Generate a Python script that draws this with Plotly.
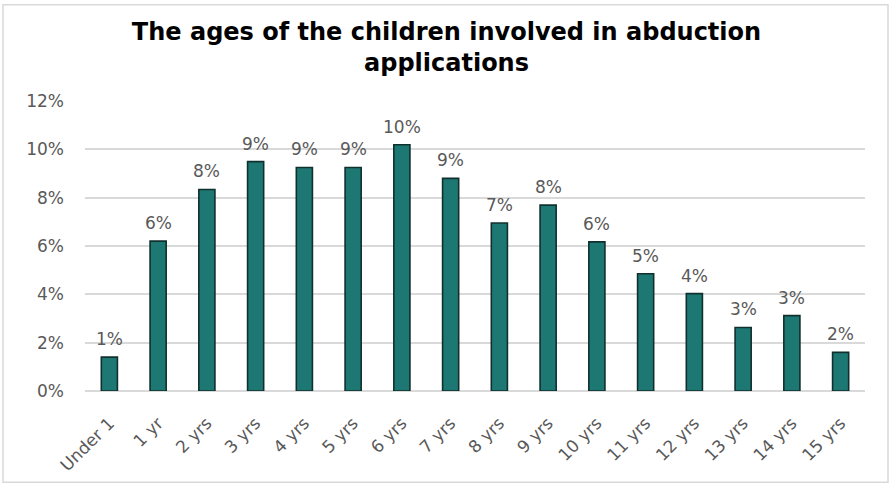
import plotly.graph_objects as go

# Share of abduction applications by the child's age
age_groups = ["Under 1", "1 yr", "2 yrs", "3 yrs", "4 yrs", "5 yrs", "6 yrs", "7 yrs",
              "8 yrs", "9 yrs", "10 yrs", "11 yrs", "12 yrs", "13 yrs", "14 yrs", "15 yrs"]
share = [0.014, 0.062, 0.0834, 0.0949, 0.0925, 0.0925, 0.1019, 0.088,
         0.0695, 0.0769, 0.0617, 0.0485, 0.0403, 0.0263, 0.0312, 0.016]
y_ticks = [0, 0.02, 0.04, 0.06, 0.08, 0.10, 0.12]
title_text = "<b>The ages of the children involved in abduction<br>applications</b>"

W, H = 893, 487
ML, MR, MT, MB = 85, 28, 101, 94
PW, PH = W - ML - MR, H - MT - MB


def px_x(p):
    return (p - ML) / PW


def px_y(p):
    return (H - MB - p) / PH


grey = "#595959"
font_family = "DejaVu Sans, Verdana, sans-serif"
label_font = dict(family=font_family, size=17, color=grey)

fig = go.Figure(
    go.Bar(
        x=age_groups,
        y=share,
        marker=dict(color="#1D7874", line=dict(color="#10302E", width=1.6)),
        width=0.33,
        hoverinfo="x+y",
    )
)

# value labels sitting above each bar
value_labels = [
    dict(
        x=cat,
        y=val,
        xref="x",
        yref="y",
        text=f"{val:.0%}",
        showarrow=False,
        xanchor="center",
        yanchor="bottom",
        yshift=6,
        font=label_font,
    )
    for cat, val in zip(age_groups, share)
]

fig.update_layout(
    width=W,
    height=H,
    margin=dict(l=ML, r=MR, t=MT, b=MB),
    paper_bgcolor="white",
    plot_bgcolor="white",
    showlegend=False,
    title=dict(
        text=title_text,
        x=0.5,
        xref="container",
        xanchor="center",
        y=1 - 40 / H,
        yanchor="middle",
        font=dict(family=font_family, size=24, color="black"),
    ),
    xaxis=dict(
        tickangle=-45,
        tickfont=label_font,
        showgrid=False,
        showline=False,
        ticks="",
        ticklabelstandoff=18,
    ),
    yaxis=dict(
        range=[0, 0.12],
        tickvals=y_ticks,
        tickformat=".0%",
        tickfont=label_font,
        showgrid=True,
        gridcolor="#D9D9D9",
        gridwidth=1.5,
        zeroline=True,
        zerolinecolor="#D9D9D9",
        zerolinewidth=1.5,
        showline=False,
        ticks="",
        ticklabelstandoff=20,
    ),
    annotations=value_labels,
    shapes=[
        dict(
            type="rect",
            xref="paper",
            yref="paper",
            x0=px_x(3),
            x1=px_x(888),
            y0=px_y(485),
            y1=px_y(4),
            line=dict(color="#D9D9D9", width=1.5),
            fillcolor="rgba(0,0,0,0)",
            layer="below",
        )
    ],
)

fig.write_html("out.html")
